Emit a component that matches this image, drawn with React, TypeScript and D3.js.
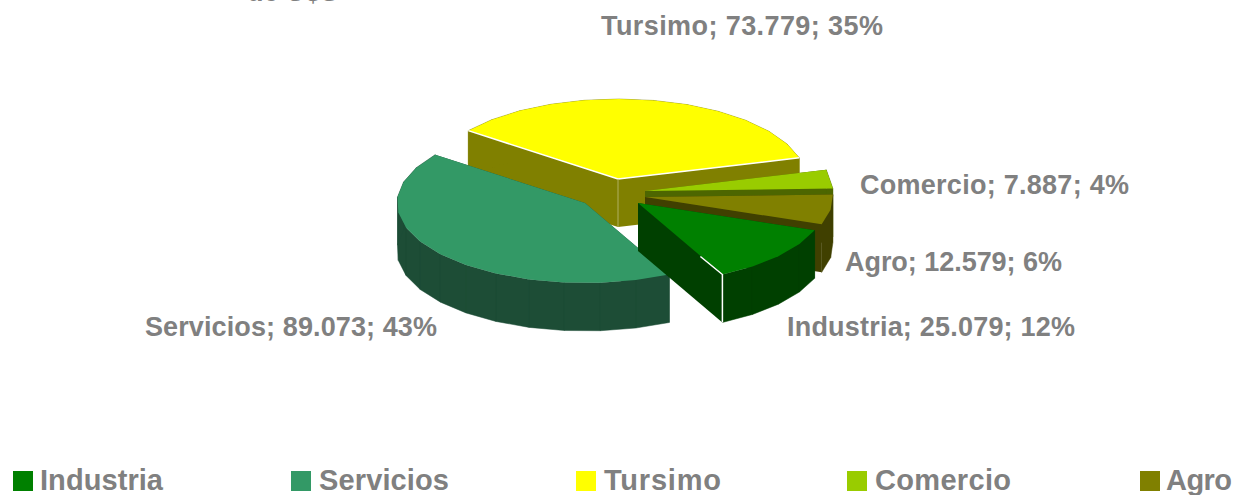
import React from "react";
import * as d3 from "d3";

const categories = ["Industria", "Servicios", "Tursimo", "Comercio", "Agro"];
const values = [25079, 89073, 73779, 7887, 12579];
const percents = ["12%", "43%", "35%", "4%", "6%"];
const topColors = ["#008000", "#339966", "#FFFF00", "#99CC00", "#808000"];
const wallColors = ["#004000", "#1D4D36", "#808000", "#4D6600", "#404000"];
const valueLabels = ["25.079", "89.073", "73.779", "7.887", "12.579"];

const W = 1236, H = 495;
const RX = 188, RY = 80, DEPTH = 48;
const apex = [[638, 203], [585, 203], [618, 179], [645, 191], [645, 197]];
const labelPos = [[787, 336], [145, 336], [601, 35], [860, 194], [845, 271]];
const labelWidth = [288, 292, 282, 269, 217];
const legendX = [13, 291, 576, 847, 1140];
const legendTextX = [40, 319, 604, 875, 1166];
const legendTextWidth = [123, 130, 117, 136, 66];
const drawOrder = [2, 3, 4, 1, 0];
const FONT = "'Liberation Sans', Arial, sans-serif";

const pieGen = d3.pie<number>().sort(null).startAngle((110 * Math.PI) / 180).endAngle((470 * Math.PI) / 180);
const arcs = pieGen(values);
const line = d3.line();
type P = [number, number];

function rim(i: number, a0: number, a1: number): P[] {
  const [cx, cy] = apex[i];
  const n = Math.max(1, Math.round((a1 - a0) / ((11 * Math.PI) / 180)));
  return d3.range(n + 1).map((k) => {
    const a = a0 + ((a1 - a0) * k) / n;
    return [cx + RX * Math.sin(a), cy - RY * Math.cos(a)] as P;
  });
}

// Wall quad with a fixed winding, so that joined quads fill without seams.
const quad = (a: P, b: P) => {
  const [l, r] = a[0] <= b[0] ? [a, b] : [b, a];
  return line([l, r, [r[0], r[1] + DEPTH], [l[0], l[1] + DEPTH]]) + "Z";
};

function Slice({ i }: { i: number }) {
  const { startAngle: a0, endAngle: a1 } = arcs[i];
  const c = apex[i] as P;
  const r = rim(i, a0, a1);
  const first = r[0];
  const last = r[r.length - 1];
  const wall = wallColors[i];
  const top = line([c, ...r]) + "Z";
  const rimWall = r.slice(1).map((p, k) => quad(r[k], p)).join("");
  return (
    <g>
      <path d={quad(c, first)} fill={wall} />
      <path d={quad(c, last)} fill={wall} />
      <path d={rimWall} fill={wall} stroke={wall} strokeWidth={0.5} />
      <path d={top} fill={topColors[i]} />
      {i === 2 && (
        <>
          <path d={line([last, c, first]) ?? ""} fill="none" stroke="#fff" strokeWidth={1.5} />
          <path d={line([c, [c[0], c[1] + DEPTH]]) ?? ""} stroke="#B0B060" strokeWidth={1} />
        </>
      )}
      {i === 0 && (
        <path d={line([[last[0] - 22, last[1] - 18], last, [last[0], last[1] + DEPTH]]) ?? ""} fill="none" stroke="#fff" strokeWidth={1.5} />
      )}
    </g>
  );
}

export default function App() {
  return (
    <svg width={W} height={H} viewBox={`0 0 ${W} ${H}`} style={{ position: "absolute", left: 0, top: 0, display: "block", background: "#fff" }}>
      <text x={247} y={1} fontFamily={FONT} fontWeight={700} fontSize={27} fill="#808080">de U$S</text>
      {drawOrder.map((i) => <Slice key={i} i={i} />)}
      {categories.map((c, i) => (
        <text key={c} x={labelPos[i][0]} y={labelPos[i][1]} textLength={labelWidth[i]} lengthAdjust="spacing" fontFamily={FONT} fontWeight={700} fontSize={27} fill="#808080">
          {`${c}; ${valueLabels[i]}; ${percents[i]}`}
        </text>
      ))}
      {categories.map((c, i) => (
        <g key={c}>
          <rect x={legendX[i]} y={471} width={20} height={20} fill={topColors[i]} />
          <text x={legendTextX[i]} y={490} textLength={legendTextWidth[i]} lengthAdjust="spacing" fontFamily={FONT} fontWeight={700} fontSize={29} fill="#808080">{c}</text>
        </g>
      ))}
    </svg>
  );
}
